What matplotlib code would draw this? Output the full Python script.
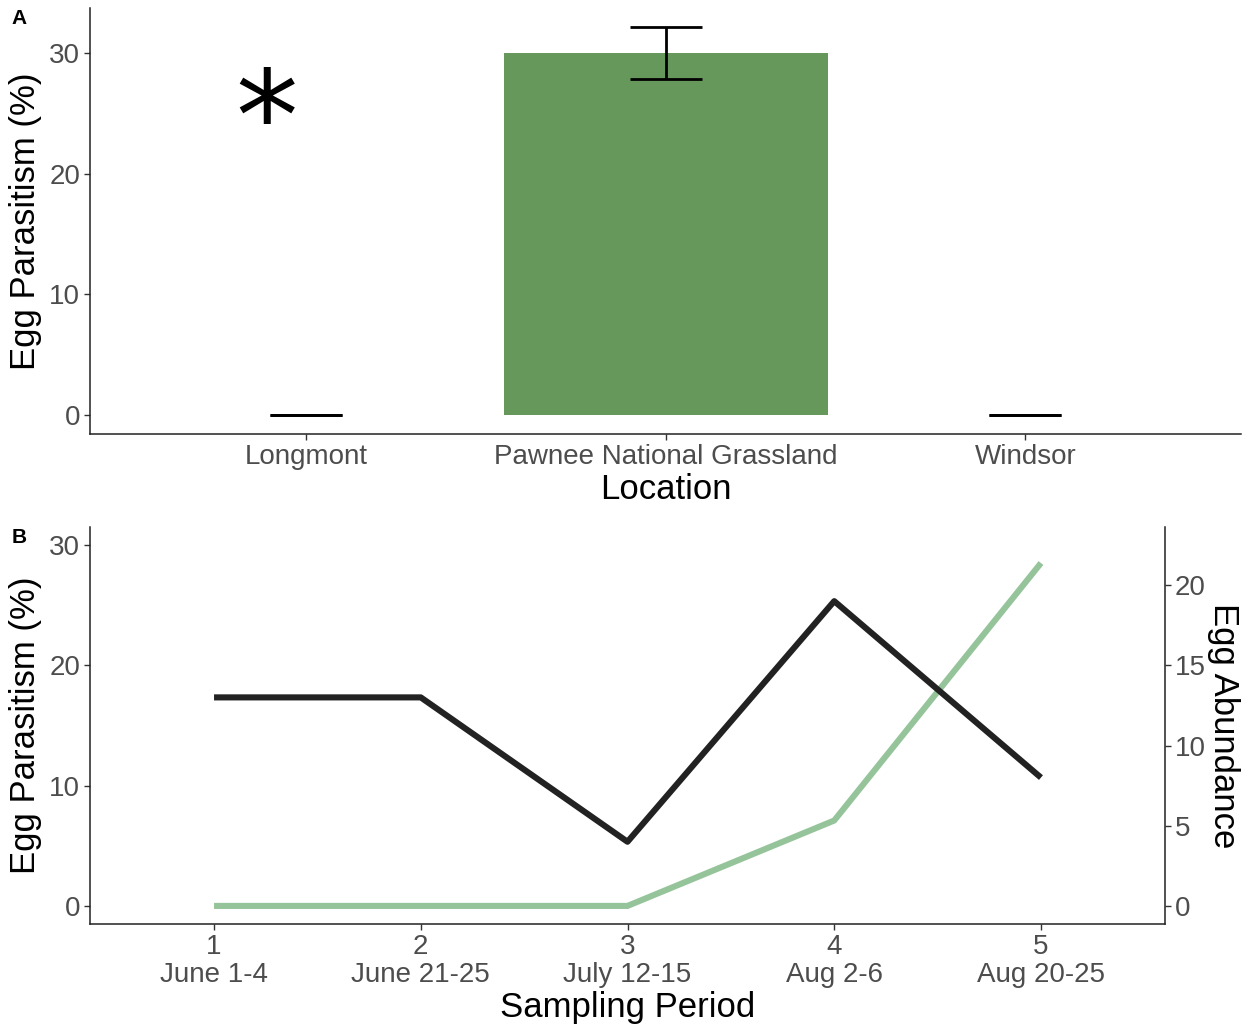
import matplotlib
matplotlib.use("Agg")
import matplotlib.pyplot as plt
import numpy as np

plt.rcParams['font.family'] = ['Liberation Sans', 'DejaVu Sans']

# Panel A: parasitism by location
locations = ["Longmont", "Pawnee National Grassland", "Windsor"]
parasitism_mean = [0.0, 30.0, 0.0]
parasitism_se = [0.0, 2.15, 0.0]
sig_label = "*"
sig_x = 0.892
sig_y = 24.0

# Panel B: seasonal pattern
periods = [1, 2, 3, 4, 5]
period_labels = ["1\nJune 1-4", "2\nJune 21-25", "3\nJuly 12-15", "4\nAug 2-6", "5\nAug 20-25"]
parasitism_period = [0.0, 0.0, 0.0, 7.1, 28.5]
egg_abundance = [13, 13, 4, 19, 8]

BAR_GREEN = "#66975B"
LINE_GREEN = "#96C49A"
LINE_DARK = "#222222"
TICK_GRAY = "#4D4D4D"
AXIS_COL = "#333333"

fig = plt.figure(figsize=(12.5, 10.28), dpi=100)

def style_axes(ax, right=False):
    for s in ["top", "right", "left", "bottom"]:
        ax.spines[s].set_visible(False)
    ax.spines["bottom"].set_visible(True)
    ax.spines["left" if not right else "right"].set_visible(True)
    for s in ax.spines.values():
        s.set_color("#222222")
        s.set_linewidth(1.1)
    ax.tick_params(axis="both", labelsize=20, labelcolor=TICK_GRAY,
                   color=AXIS_COL, length=4, width=1.0, pad=3)

# ---------- Panel A ----------
axA = fig.add_axes([0.072, 0.5775, 0.921, 0.4147])
style_axes(axA)
xA = np.arange(1, len(locations) + 1)
axA.bar(xA, parasitism_mean, width=0.9, color=BAR_GREEN, zorder=1)
means = np.array(parasitism_mean)
ses = np.array(parasitism_se)
cap = 0.1
axA.vlines(xA, means - ses, means + ses, color="black", linewidth=2.0, zorder=2)
axA.hlines(means - ses, xA - cap, xA + cap, color="black", linewidth=2.0, zorder=2)
axA.hlines(means + ses, xA - cap, xA + cap, color="black", linewidth=2.0, zorder=2)
axA.text(sig_x, sig_y, sig_label, fontsize=90, ha="center", va="center",
         color="black", family="DejaVu Sans")
axA.set_xlim(0.4, 3.6)
axA.set_ylim(-1.6, 33.75)
axA.set_xticks(xA)
axA.set_xticklabels(locations)
axA.set_yticks([0, 10, 20, 30])
axA.set_xlabel("Location", fontsize=25, labelpad=2)
axA.set_ylabel("Egg Parasitism (%)", fontsize=25, labelpad=5)
fig.text(0.0095, 0.982, "A", fontsize=15, fontweight="bold", va="center", ha="left")

# ---------- Panel B ----------
axB = fig.add_axes([0.072, 0.1012, 0.86, 0.3862])
style_axes(axB)
axB2 = axB.twinx()
style_axes(axB2, right=True)
axB2.spines["bottom"].set_visible(False)

axB.plot(periods, parasitism_period, color=LINE_GREEN, linewidth=4.4, solid_capstyle="butt", zorder=2)
axB2.plot(periods, egg_abundance, color=LINE_DARK, linewidth=4.4, solid_capstyle="butt", zorder=3)
axB.set_xlim(0.4, 5.6)
axB.set_ylim(-1.5, 31.5)
axB2.set_ylim(-1.5 * 0.75, 31.5 * 0.75)
axB.set_xticks(periods)
axB.set_xticklabels(period_labels, linespacing=1.12)
axB.set_yticks([0, 10, 20, 30])
axB2.set_yticks([0, 5, 10, 15, 20])
axB.set_xlabel("Sampling Period", fontsize=25, labelpad=2)
axB.set_ylabel("Egg Parasitism (%)", fontsize=25, labelpad=5)
axB2.set_ylabel("Egg Abundance", fontsize=25, rotation=-90, labelpad=25)
fig.text(0.0095, 0.4775, "B", fontsize=15, fontweight="bold", va="center", ha="left")

fig.savefig("out.png", dpi=100)
